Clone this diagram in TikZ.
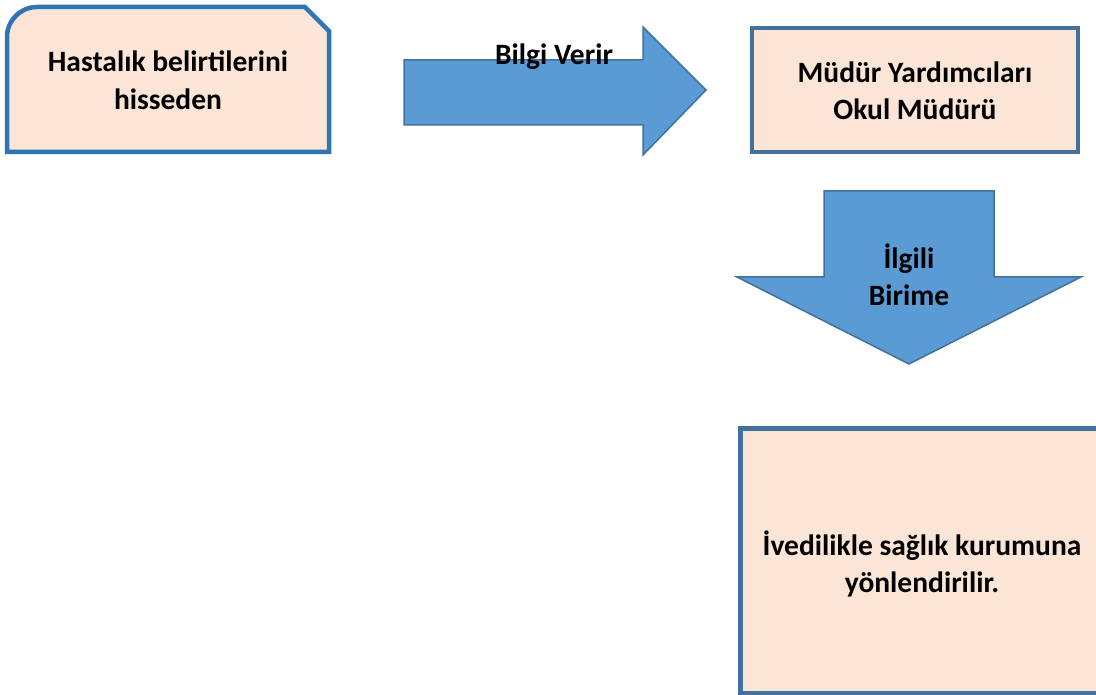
\documentclass[tikz,border=0pt]{standalone}
\usepackage{fontspec}
\setmainfont{Carlito}
\definecolor{peach}{HTML}{FBE5D6}
\definecolor{boxblue}{HTML}{2E75B6}
\definecolor{edgeblue}{HTML}{41719C}
\definecolor{arrowblue}{HTML}{5B9BD5}
\tikzset{
	lbl/.style={align=center, font=\fontsize{29.5}{37.5}\selectfont\bfseries},
	box/.style={fill=peach, draw=edgeblue, line width=4.5pt},
	blockarrow/.style={fill=arrowblue, draw=edgeblue, line width=1.5pt, line join=miter}
}
\begin{document}
\begin{tikzpicture}[x=1pt, y=-1pt]
	\useasboundingbox (0,0) rectangle (1096,695);
	% boxes
	\draw[box, draw=boxblue] (7,37) arc[start angle=180, end angle=270, radius=30] -- (305,7) -- (329,31) -- (329,152) -- (7,152) -- cycle;
	\draw[box] (752,28) rectangle (1078,152);
	\draw[box, line width=5pt] (740,428) rectangle (1104,693);
	% block arrows
	\draw[blockarrow] (404,60) -- (643,60) -- (643,27) -- (706,90) -- (643,155) -- (643,125) -- (404,125) -- cycle;
	\draw[blockarrow] (824,191) -- (994,191) -- (994,277) -- (1081,277) -- (909,364) -- (737,277) -- (824,277) -- cycle;
	% texts
	\node[lbl] (hasta) at (168,80) {Hastalık belirtilerini\\hisseden};
	\node[lbl] (bilgi) at (554,57) {Bilgi Verir};
	\node[lbl] (mudur) at (915,91) {Müdür Yardımcıları\\Okul Müdürü};
	\node[lbl] (birim) at (909,275) {İlgili\\Birime};
	\node[lbl] (kurum) at (922,564) {İvedilikle sağlık kurumuna\\yönlendirilir.};
\end{tikzpicture}
\end{document}
